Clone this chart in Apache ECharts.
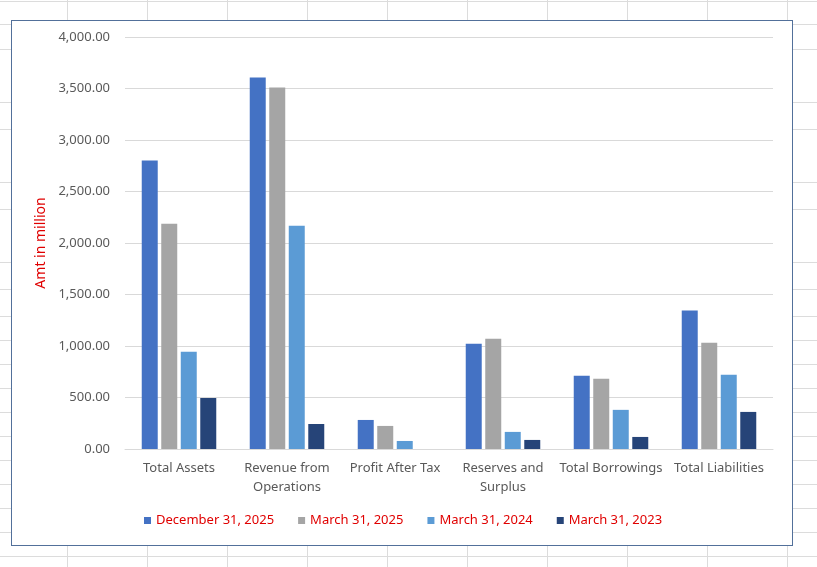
<!DOCTYPE html>
<html>
<head>
<meta charset="utf-8">
<script src="https://cdn.jsdelivr.net/npm/echarts@6/dist/echarts.min.js"></script>
<style>
  html, body { margin: 0; padding: 0; background: #fff; }
  #sheet { position: absolute; left: 0; top: 0; width: 817px; height: 567px; overflow: hidden; }
  .hl { position: absolute; left: 0; width: 817px; height: 1px; background: #dcdcdc; }
  .vl { position: absolute; top: 0; width: 1px; height: 567px; background: #dcdcdc; }
  #box { position: absolute; left: 11px; top: 20px; width: 780px; height: 524px; background: #fff; border: 1.5px solid #52709a; }
  #chart { position: absolute; left: 0; top: 0; width: 817px; height: 567px; }
</style>
</head>
<body>
<div id="sheet"></div>
<div id="box"></div>
<div id="chart"></div>
<script>
// ---- data ----
const categories = ["Total Assets", "Revenue from\nOperations", "Profit After Tax", "Reserves and\nSurplus", "Total Borrowings", "Total Liabilities"];
const seriesNames = ["December 31, 2025", "March 31, 2025", "March 31, 2024", "March 31, 2023"];
const dec2025 = [2800, 3607, 282, 1023, 711, 1344];
const mar2025 = [2187, 3510, 224, 1071, 682, 1032];
const mar2024 = [943, 2168, 78, 166, 380, 721];
const mar2023 = [496, 243, 0, 88, 117, 360];
const yTicks = [0, 500, 1000, 1500, 2000, 2500, 3000, 3500, 4000];

// ---- spreadsheet backdrop (decoration) ----
const sheet = document.getElementById('sheet');
[1, 24, 49, 102, 129, 182, 209, 262, 289, 316, 340, 364, 388, 412, 436, 460, 484, 508, 532, 556].forEach(y => {
  const d = document.createElement('div'); d.className = 'hl'; d.style.top = y + 'px'; sheet.appendChild(d);
});
for (let x = 67; x < 817; x += 80) {
  const d = document.createElement('div'); d.className = 'vl'; d.style.left = x + 'px'; sheet.appendChild(d);
}

// ---- chart ----
const colors = ["#4472C4", "#A5A5A5", "#5B9BD5", "#264478"];
const values = [dec2025, mar2025, mar2024, mar2023];
const font = "'Noto Sans', sans-serif";
const chart = echarts.init(document.getElementById('chart'), null, { renderer: 'canvas' });
chart.setOption({
  backgroundColor: 'transparent',
  animation: false,
  color: colors,
  textStyle: { fontFamily: font },
  grid: { left: 125, right: 44, top: 37, bottom: 118, containLabel: false },
  legend: {
    data: seriesNames,
    top: 514,
    left: 144,
    padding: 0,
    itemWidth: 7,
    itemHeight: 7,
    itemGap: 24,
    icon: 'rect',
    textStyle: { color: '#E00000', fontSize: 13, fontFamily: font }
  },
  xAxis: {
    type: 'category',
    data: categories,
    axisLine: { show: true, lineStyle: { color: '#D9D9D9', width: 1 } },
    axisTick: { show: false },
    axisLabel: { color: '#595959', fontSize: 13, lineHeight: 19, margin: 10, interval: 0, fontFamily: font }
  },
  yAxis: {
    type: 'value',
    min: yTicks[0],
    max: yTicks[yTicks.length - 1],
    interval: 500,
    name: 'Amt in million',
    nameLocation: 'middle',
    nameGap: 76,
    nameTextStyle: { color: '#E00000', fontSize: 14, fontFamily: font },
    axisLine: { show: false },
    axisTick: { show: false },
    splitLine: { lineStyle: { color: '#D9D9D9', width: 1 } },
    axisLabel: {
      color: '#595959', fontSize: 13, margin: 15, fontFamily: font,
      formatter: v => v.toLocaleString('en-US', { minimumFractionDigits: 2, maximumFractionDigits: 2 })
    }
  },
  series: seriesNames.map((n, i) => ({
    name: n,
    type: 'bar',
    data: values[i],
    barGap: '22%',
    barCategoryGap: '31%'
  }))
});
</script>
</body>
</html>
